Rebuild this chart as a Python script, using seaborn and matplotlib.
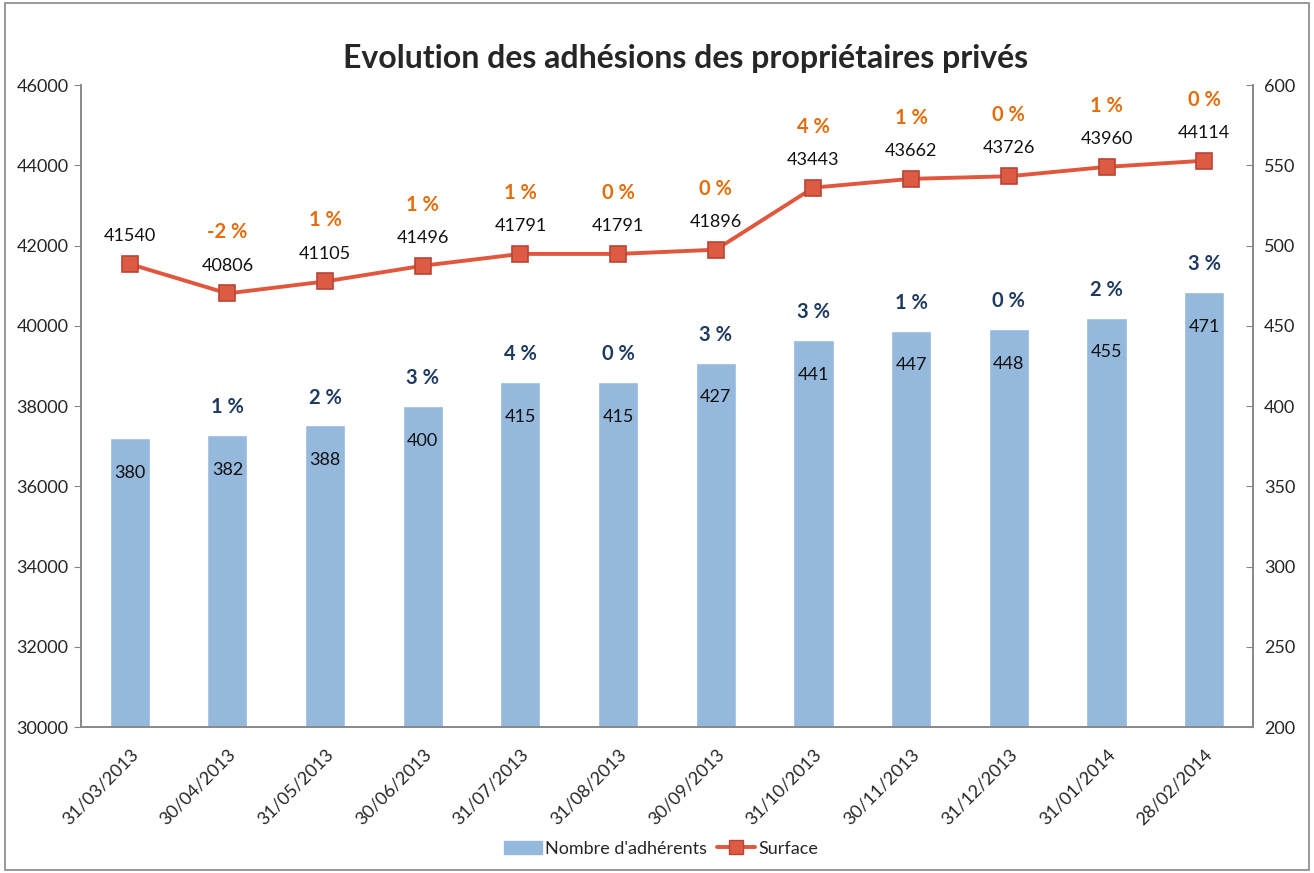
import numpy as np
import pandas as pd
import seaborn as sns
import matplotlib.pyplot as plt
from matplotlib.patches import Rectangle
from matplotlib.lines import Line2D

dates = ["31/03/2013", "30/04/2013", "31/05/2013", "30/06/2013", "31/07/2013", "31/08/2013",
         "30/09/2013", "31/10/2013", "30/11/2013", "31/12/2013", "31/01/2014", "28/02/2014"]
adherents = [380, 382, 388, 400, 415, 415, 427, 441, 447, 448, 455, 471]
surface = [41540, 40806, 41105, 41496, 41791, 41791, 41896, 43443, 43662, 43726, 43960, 44114]
pct_adherents = ["", "1 %", "2 %", "3 %", "4 %", "0 %", "3 %", "3 %", "1 %", "0 %", "2 %", "3 %"]
pct_surface = ["", "-2 %", "1 %", "1 %", "1 %", "0 %", "0 %", "4 %", "1 %", "0 %", "1 %", "0 %"]

sns.set_style("white")
plt.rcParams['font.family'] = ['Lato', 'DejaVu Sans']

bar_color = "#95B8DD"
line_color = "#E0573E"
orange = "#E46C0A"
navy = "#1F3A60"

df = pd.DataFrame({"date": dates, "adherents": adherents, "surface": surface,
                   "pos": np.arange(len(dates))})

fig = plt.figure(figsize=(13.14, 8.73), dpi=100)
ax = fig.add_axes([0.0616, 0.1672, 0.892, 0.7354])
ax2 = ax.twinx()

# bars on the secondary axis
sns.barplot(data=df, x="pos", y="adherents", ax=ax2, color=bar_color, width=0.41,
            saturation=1, native_scale=True)
ax2.set_ylim(200, 600)
ax2.set_yticks(range(200, 601, 50))
ax2.set_ylabel("")

# line on the primary axis, drawn above the bars
ax.set_zorder(ax2.get_zorder() + 1)
ax.patch.set_visible(False)
sns.lineplot(data=df, x="pos", y="surface", ax=ax, color=line_color, linewidth=2.8,
             marker="s", markersize=11, markerfacecolor="#DD5B43",
             markeredgecolor="#B84535", markeredgewidth=1.2)
ax.set_ylim(30000, 46000)
ax.set_yticks(range(30000, 46001, 2000))
ax.set_ylabel("")
ax.set_xlabel("")
ax2.set_xlabel("")

ax.set_xlim(-0.5, len(dates) - 0.5)
ax.set_xticks(np.arange(len(dates)))
ax.set_xticklabels(dates, rotation=45, ha="right", rotation_mode="anchor", fontsize=13)
ax.set_xticks(np.arange(len(dates) + 1) - 0.5, minor=True)
ax.tick_params(axis="x", which="major", length=0, pad=14)
ax.tick_params(axis="x", which="minor", length=6, color="#888888", direction="out")
ax.tick_params(axis="y", length=5, color="#888888", direction="out", labelsize=13, pad=4)
ax2.tick_params(axis="y", length=5, color="#888888", direction="in", labelsize=13, pad=8)

for a in (ax, ax2):
    a.spines["top"].set_visible(False)
    for s in ("left", "right", "bottom"):
        a.spines[s].set_color("#888888")
        a.spines[s].set_linewidth(1.2)

# data labels
for i in range(len(dates)):
    ax2.annotate(str(adherents[i]), (i, adherents[i]), xytext=(0, -25), textcoords="offset points",
                 ha="center", va="center", fontsize=13, color="#111111")
    if pct_adherents[i]:
        ax2.annotate(pct_adherents[i], (i, adherents[i]), xytext=(0, 20), textcoords="offset points",
                     ha="center", va="center", fontsize=14.5, fontweight="bold", color=navy)
    ax.annotate(str(surface[i]), (i, surface[i]), xytext=(0, 20), textcoords="offset points",
                ha="center", va="center", fontsize=13, color="#111111")
    if pct_surface[i]:
        ax.annotate(pct_surface[i], (i, surface[i]), xytext=(0, 44), textcoords="offset points",
                    ha="center", va="center", fontsize=14.5, fontweight="bold", color=orange)

fig.suptitle("Evolution des adhésions des propriétaires privés", x=0.522, y=0.95,
             fontsize=23, fontweight="bold")

handles = [Rectangle((0, 0), 1, 1, color=bar_color),
           Line2D([], [], color=line_color, linewidth=2.8, marker="s", markersize=10,
                  markerfacecolor="#DD5B43", markeredgecolor="#B84535")]
fig.legend(handles, ["Nombre d'adhérents", "Surface"], loc="center", bbox_to_anchor=(0.503, 0.028),
           ncol=2, frameon=False, fontsize=13, handlelength=2.1, columnspacing=0.6,
           handletextpad=0.15)

fig.patches.append(Rectangle((0.004, 0.004), 0.992, 0.992, transform=fig.transFigure,
                             fill=False, edgecolor="#888888", linewidth=1.2))

fig.savefig("out.png", dpi=100)
